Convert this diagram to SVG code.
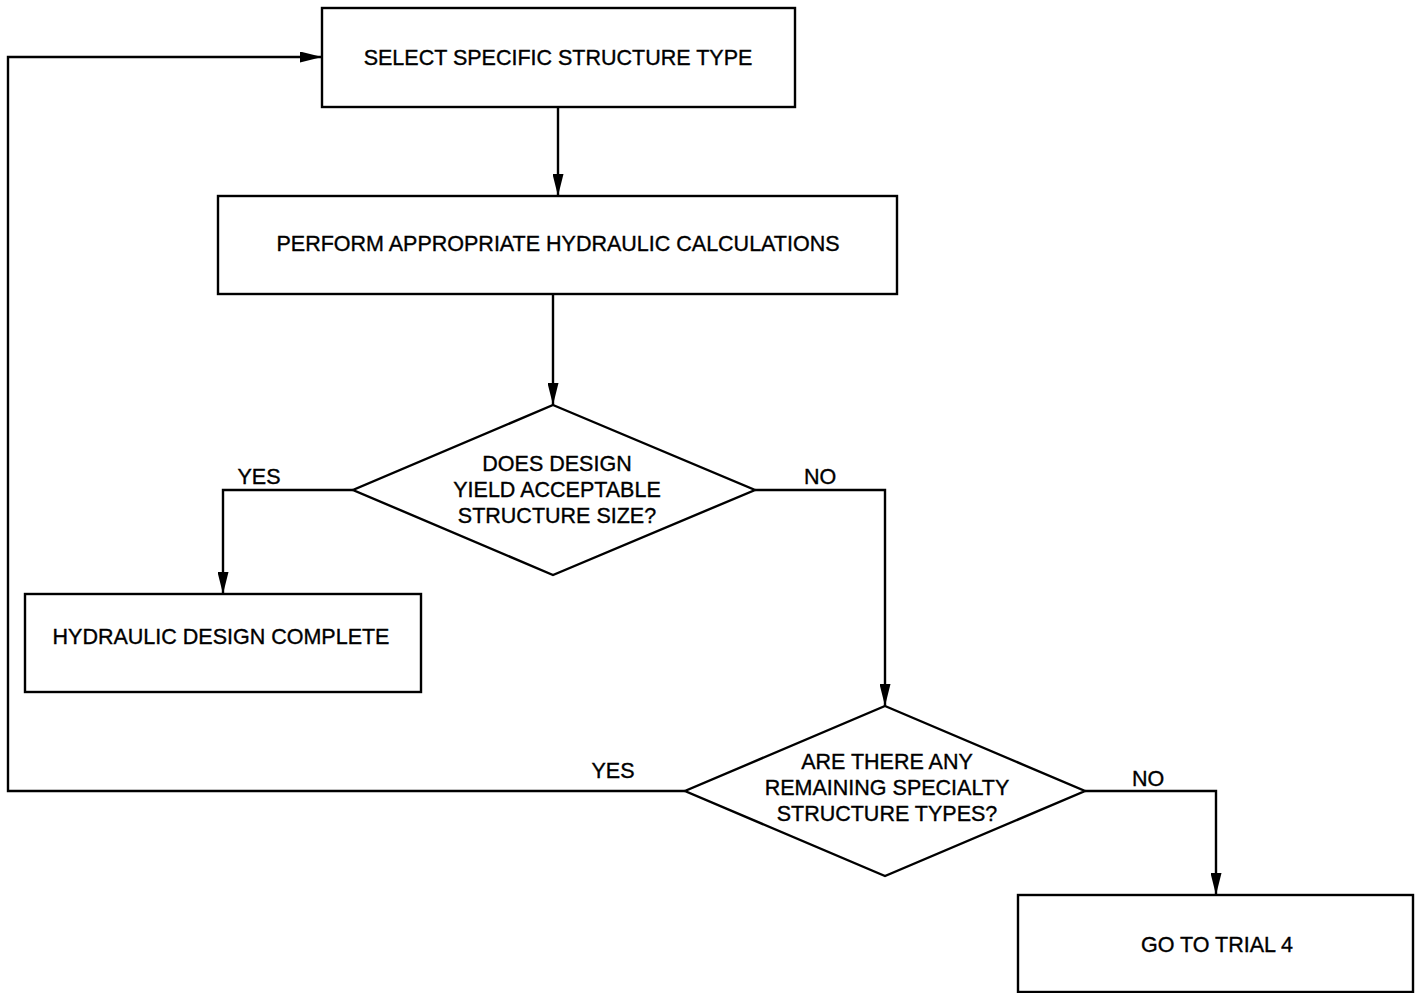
<svg xmlns="http://www.w3.org/2000/svg" width="1420" height="993" viewBox="0 0 1420 993">
<style>
.n{fill:#fff;stroke:#000;stroke-width:2.4}
.t{font-family:"Liberation Sans",Arial,sans-serif;font-size:21.5px;fill:#000;stroke:#000;stroke-width:0.35;text-anchor:middle}
.c{fill:none;stroke:#000;stroke-width:2.4}
</style>
<defs>
<marker id="a" markerUnits="userSpaceOnUse" markerWidth="22" markerHeight="11" refX="22" refY="5.5" orient="auto">
<path d="M0,0 L22,5.5 L0,11 Z" fill="#000"/>
</marker>
</defs>
<rect width="1420" height="993" fill="#fff"/>
<g id="connectors">
<path class="c" d="M558,107 V196" marker-end="url(#a)"/>
<path class="c" d="M553,294 V405" marker-end="url(#a)"/>
<path class="c" d="M353,490 H223 V594" marker-end="url(#a)"/>
<path class="c" d="M755,490 H885 V706" marker-end="url(#a)"/>
<path class="c" d="M685,791 H8 V57 H322" marker-end="url(#a)"/>
<path class="c" d="M1085,791 H1216 V895" marker-end="url(#a)"/>
<text class="t" x="259" y="484">YES</text>
<text class="t" x="820" y="484">NO</text>
<text class="t" x="613" y="778">YES</text>
<text class="t" x="1148" y="786">NO</text>
</g>
<g id="n1">
<rect class="n" x="322" y="8" width="473" height="99"/>
<text class="t" x="558" y="65">SELECT SPECIFIC STRUCTURE TYPE</text>
</g>
<g id="n2">
<rect class="n" x="218" y="196" width="679" height="98"/>
<text class="t" x="558" y="251">PERFORM APPROPRIATE HYDRAULIC CALCULATIONS</text>
</g>
<g id="d1">
<polygon class="n" points="553,405 755,490 553,575 353,490"/>
<text class="t" x="557" y="471">DOES DESIGN</text>
<text class="t" x="557" y="497">YIELD ACCEPTABLE</text>
<text class="t" x="557" y="523">STRUCTURE SIZE?</text>
</g>
<g id="n3">
<rect class="n" x="25" y="594" width="396" height="98"/>
<text class="t" x="221" y="644">HYDRAULIC DESIGN COMPLETE</text>
</g>
<g id="d2">
<polygon class="n" points="885,706 1085,791 885,876 685,791"/>
<text class="t" x="887" y="769">ARE THERE ANY</text>
<text class="t" x="887" y="795">REMAINING SPECIALTY</text>
<text class="t" x="887" y="821">STRUCTURE TYPES?</text>
</g>
<g id="n4">
<rect class="n" x="1018" y="895" width="395" height="97"/>
<text class="t" x="1217" y="952">GO TO TRIAL 4</text>
</g>
</svg>
